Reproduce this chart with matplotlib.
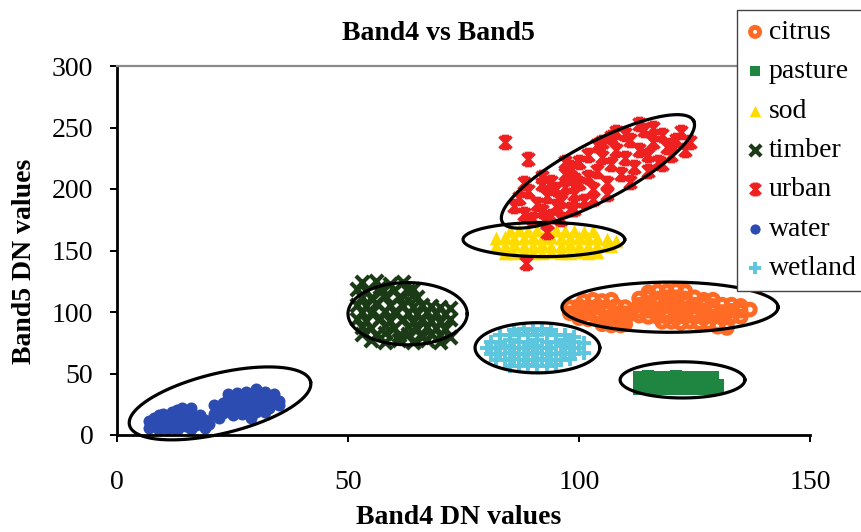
import numpy as np
import matplotlib.pyplot as plt
from matplotlib.path import Path

plt.rcParams['font.family'] = ['Liberation Serif', 'DejaVu Serif']

# (band4, band5) samples per class
citrus = [(101,109),(103,110),(105,109),(107,110),
          (98,104),(100,105),(102,104),(104,105),(106,104),(108,105),(110,104),
          (98,99),(100,100),(102,99),(104,99),(106,100),(108,99),(110,99),
          (100,95),(102,94),(104,95),(106,94),(108,93),(110,94),
          (105,90),(107,89),(109,89),(110,90),
          (115,116),(117,117),(119,117),(121,118),(123,117),
          (113,111),(115,112),(117,111),(119,112),(121,112),(123,111),(125,112),(127,110),(129,110),
          (113,106),(115,106),(117,107),(119,106),(121,106),(123,107),(125,106),(127,106),(129,105),(131,106),(133,106),(135,105),
          (113,101),(115,101),(117,101),(119,100),(121,101),(123,101),(125,100),(127,101),(129,101),(131,100),(133,101),(135,101),(137,102),
          (113,97),(115,96),(117,96),(119,96),(121,95),(123,96),(125,96),(127,95),(129,96),(131,95),(133,96),(135,96),
          (118,92),(120,92),(122,91),(124,92),(126,91),(128,91),(130,90),(132,90),(130,88),(132,87)]
pasture = [(113,47),(115,48),(117,47),(119,47),(121,48),(123,47),(125,47),(127,47),(129,47),
           (113,42),(115,42),(117,42),(119,42),(121,42),(123,42),(125,42),(127,42),(129,42),(130,41),
           (113,37),(115,37),(117,37),(119,37),(121,37),(123,37),(125,37),(127,37),(129,37),(130,38)]
sod = [(85,166),(87,167),(89,166),(91,167),(93,166),(95,167),(97,166),(99,166),(101,165),(103,166),
       (82,160),(84,161),(86,160),(88,160),(90,161),(92,160),(94,161),(96,160),(98,160),(100,161),(102,160),(104,160),(106,159),(108,158),
       (82,154),(84,154),(86,155),(88,154),(90,154),(92,155),(94,154),(96,154),(98,155),(100,154),(102,154),(104,154),(106,155),(107,154),
       (84,148),(86,148),(88,149),(90,148),(92,148),(94,149),(96,148),(98,148),(100,149),(102,148),(104,149)]
timber = [(53,124),(56,125),(59,123),(62,124),(57,120),
          (52,119),(54,117),(57,116),(60,118),(63,117),(64,119),
          (53,112),(55,111),(58,113),(61,112),(63,110),(65,112),
          (52,106),(54,105),(56,107),(59,106),(62,105),(64,104),(66,106),(68,105),(70,104),(72,103),
          (53,100),(55,99),(58,101),(60,100),(63,99),(65,98),(67,100),(69,99),(71,98),
          (52,94),(54,93),(57,95),(59,93),(62,94),(64,92),(66,94),(68,93),(70,92),(72,94),
          (53,88),(55,87),(58,89),(60,87),(63,88),(65,86),(67,88),(69,87),(71,86),
          (53,82),(56,81),(58,83),(61,81),(63,82),(66,80),(68,82),(70,81),(72,80),
          (55,77),(58,76),(61,77),(64,76),(67,77),(70,76)]
urban = [(84,238),(89,224),(86,186),(88,180),(90,176),(87,193),(89,198),(91,188),(92,182),(93,194),
         (94,178),(95,200),(96,190),(94,206),(97,212),(98,184),(99,196),(100,205),(101,190),(98,218),
         (100,222),(102,210),(103,200),(104,215),(102,228),(105,226),(106,205),(107,220),(108,232),(105,238),
         (109,212),(110,225),(111,240),(112,218),(113,232),(110,245),(114,248),(115,228),(116,238),(117,222),
         (118,244),(119,234),(120,228),(121,240),(122,246),(123,232),(124,238),(113,253),(108,246),(97,222),
         (92,210),(88,205),(92,204),(103,192),(99,208),(106,196),(111,206),(115,215),(118,220),(93,172),
         (96,176),(99,184),(93,165),(88.5,140),(107,242),(116,250),(120,236),(97,202),(95,186),(104,236)]
water = [(7,6),(7,11),(8,8),(8,14),(9,4),(9,10),(10,7),(10,13),(10,17),(11,5),(11,10),(12,8),
         (12,15),(12,19),(13,4),(13,12),(14,7),(14,17),(14,22),(15,10),(15,14),(16,5),(16,19),(17,8),
         (17,13),(18,10),(18,16),(19,6),(19,12),(20,9),(12,11),(9,16),(16,22),(13,20),(11,14),(15,7),
         (21,17),(21,24),(22,14),(22,21),(23,26),(23,18),(24,22),(24,29),(25,16),(25,25),(26,20),(26,30),
         (27,24),(27,17),(28,28),(28,21),(29,33),(29,25),(30,19),(30,29),(30,37),(31,23),(31,32),(32,27),
         (32,35),(33,22),(33,30),(34,26),(34,33),(35,28),(28,35),(26,34),(24,33),(32,19),(29,14),(35,24)]
wetland = [(86,85),(88,86),(90,85),(92,86),(94,85),
           (83,81),(85,81),(87,82),(89,81),(91,81),(93,82),(95,81),(97,81),(99,80),
           (81,76),(83,76),(85,77),(87,76),(89,76),(91,77),(93,76),(95,76),(97,77),(99,76),(101,75),
           (80,71),(82,71),(84,72),(86,71),(88,71),(90,72),(92,71),(94,71),(96,72),(98,71),(100,71),
           (81,66),(83,66),(85,67),(87,66),(89,66),(91,67),(93,66),(95,66),(97,67),(99,66),(101,67),
           (82,61),(84,61),(86,62),(88,61),(90,61),(92,62),(94,61),(96,61),(98,62),
           (85,56),(87,56),(89,57),(91,56),(93,56),(95,57)]

names = ['citrus', 'pasture', 'sod', 'timber', 'urban', 'water', 'wetland']
groups = [citrus, pasture, sod, timber, urban, water, wetland]
colors = ['#ff6a24', '#1f8642', '#ffdc00', '#1b3a16', '#ee2020', '#2c4cb2', '#5cc6de']

# hand drawn ellipses: centre, major and minor semi-axis vectors (data units)
ell_center = [(22.3, 25.7), (62.9, 98.6), (91.0, 70.9), (119.7, 103.9),
              (122.4, 44.8), (92.4, 158.9), (104.1, 214.3)]
ell_major = [(19.6, 17.7), (12.9, 0), (13.5, 0), (23.4, 0), (13.5, 0), (17.5, 0), (20.7, 41.2)]
ell_minor = [(1.5, -23.8), (0, 25.3), (0, 20.4), (0, 20.4), (0, 14.7), (0, 13.9), (2.95, -20.8)]

M, L = Path.MOVETO, Path.LINETO
star = Path([(-1, -1), (1, 1), (-1, 1), (1, -1), (0, 1), (0, -1), (-0.6, 1), (0.6, 1), (-0.6, -1), (0.6, -1)],
            [M, L, M, L, M, L, M, L, M, L])

fig = plt.figure(figsize=(8.61, 5.32), dpi=100)
ax = fig.add_axes([117/861, 1 - 435/532, 693/861, 369/532])

styles = {
    'citrus': dict(marker='o', s=58, facecolors='none', linewidths=3.6),
    'pasture': dict(marker='s', s=70, linewidths=0),
    'sod': dict(marker='^', s=95, linewidths=0),
    'timber': dict(marker='x', s=90, linewidths=3.0),
    'urban': dict(marker=star, s=75, linewidths=2.6),
    'water': dict(marker='o', s=75, linewidths=0),
    'wetland': dict(marker='+', s=110, linewidths=2.8),
}
for name, pts, col in zip(names, groups, colors):
    arr = np.array(pts, dtype=float)
    st = styles[name]
    if name == 'citrus':
        ax.scatter(arr[:, 0], arr[:, 1], edgecolors=col, label=name, zorder=2, **st)
    else:
        ax.scatter(arr[:, 0], arr[:, 1], color=col, label=name, zorder=2, **st)

t = np.linspace(0, 2 * np.pi, 240)
for (cx, cy), (mx, my), (nx, ny) in zip(ell_center, ell_major, ell_minor):
    ax.plot(cx + mx * np.cos(t) + nx * np.sin(t), cy + my * np.cos(t) + ny * np.sin(t),
            color='black', lw=2.3, zorder=4, clip_on=False)

ax.set_xlim(0, 150)
ax.set_ylim(0, 300)
ax.set_xticks([0, 50, 100, 150])
ax.set_yticks([0, 50, 100, 150, 200, 250, 300])
ax.tick_params(axis='both', direction='out', length=5, width=1.4, labelsize=20, color='black')
ax.tick_params(axis='x', pad=20)
ax.tick_params(axis='y', pad=12)
ax.spines['right'].set_visible(False)
ax.spines['top'].set_color('#8a8a8a')
ax.spines['top'].set_linewidth(1.6)
for s in ['left', 'bottom']:
    ax.spines[s].set_linewidth(2.0)

fig.text(438/861, 1 - 34/532, 'Band4 vs Band5', ha='center', va='center', fontsize=20, fontweight='bold')
fig.text(459/861, 1 - 518/532, 'Band4 DN values', ha='center', va='center', fontsize=20, fontweight='bold')
fig.text(25/861, 1 - 261/532, 'Band5 DN values', ha='center', va='center', rotation=90,
         fontsize=20, fontweight='bold')

leg = ax.legend(loc='upper left', bbox_to_anchor=(737/861, 1 - 10/532), bbox_transform=fig.transFigure,
                fontsize=20, frameon=True, fancybox=False, framealpha=1, borderaxespad=0,
                borderpad=0.35, labelspacing=0.5, handlelength=0.6, handletextpad=0.2, markerscale=0.85)
leg.get_frame().set_edgecolor('#444444')
leg.get_frame().set_linewidth(1.0)
leg.set_zorder(10)

fig.savefig('out.png', dpi=100)
